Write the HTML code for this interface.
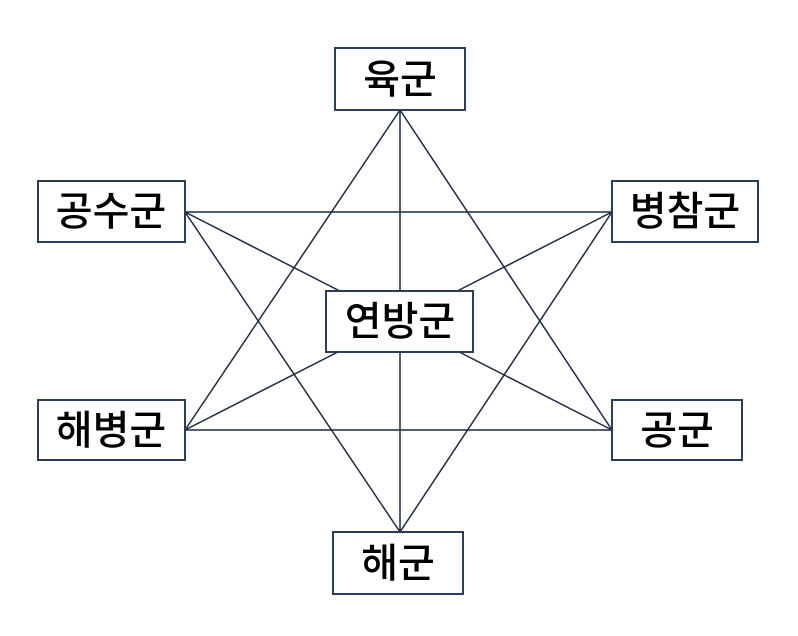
<!DOCTYPE html>
<html><head><meta charset="utf-8"><style>
html,body{margin:0;padding:0;background:#fff;}
svg{display:block}
text{font-family:"Liberation Sans","Noto Sans CJK KR","NanumGothic",sans-serif;font-size:40px;font-weight:500;fill:#000;text-anchor:middle;dominant-baseline:central}
</style></head><body>
<svg width="798" height="636" viewBox="0 0 798 636" xmlns="http://www.w3.org/2000/svg">
<g stroke="#1c2a44" stroke-width="1.5" fill="none">
<line x1="400" y1="110" x2="185" y2="430"/>
<line x1="400" y1="110" x2="612" y2="430"/>
<line x1="400" y1="110" x2="400" y2="532"/>
<line x1="185" y1="212" x2="612" y2="212"/>
<line x1="185" y1="212" x2="400" y2="532"/>
<line x1="612" y1="212" x2="400" y2="532"/>
<line x1="185" y1="430" x2="612" y2="430"/>
<line x1="185" y1="430" x2="612" y2="212"/>
<line x1="612" y1="430" x2="185" y2="212"/>
</g>
<g stroke="#2c3e55" stroke-width="2" fill="#fff">
<rect x="335" y="48" width="130" height="62"/>
<rect x="38" y="181" width="147" height="61"/>
<rect x="612" y="181" width="146" height="61"/>
<rect x="326" y="291" width="147" height="61"/>
<rect x="38" y="400" width="147" height="60"/>
<rect x="612" y="400" width="130" height="60"/>
<rect x="333" y="532" width="130" height="62"/>
</g>
<text x="400" y="80">육군</text>
<text x="111" y="212">공수군</text>
<text x="685" y="212">병참군</text>
<text x="400" y="322">연방군</text>
<text x="111" y="431">해병군</text>
<text x="677" y="431">공군</text>
<text x="398" y="564">해군</text>
</svg>
</body></html>
